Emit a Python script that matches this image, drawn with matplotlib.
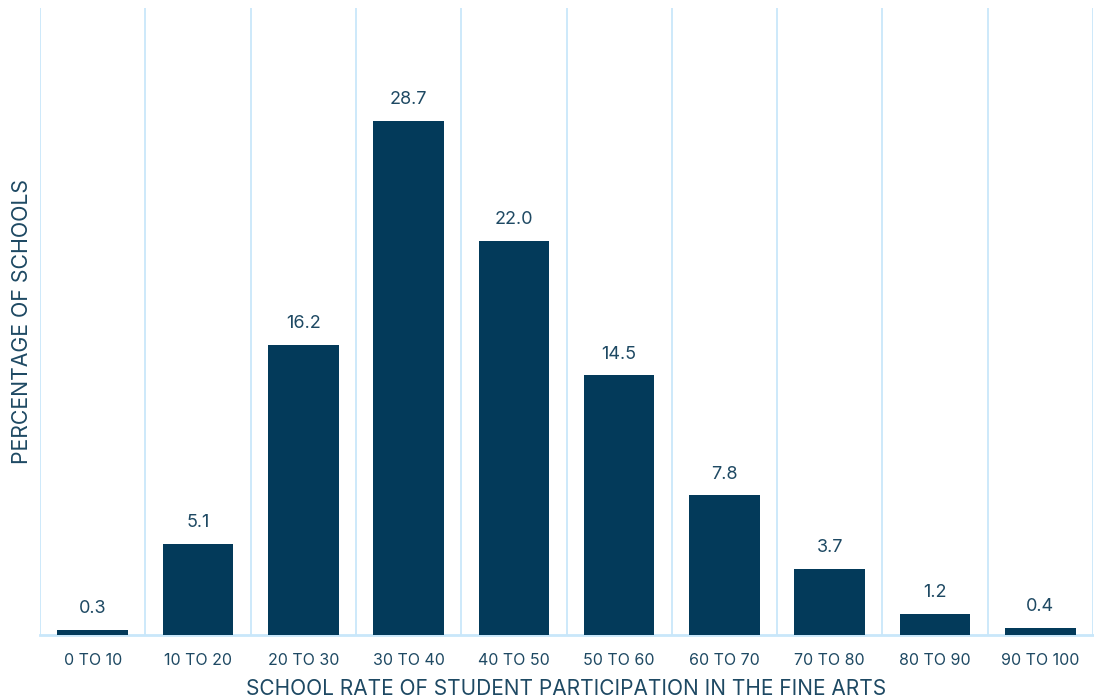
import matplotlib.pyplot as plt
import numpy as np

categories = ["0 TO 10", "10 TO 20", "20 TO 30", "30 TO 40", "40 TO 50",
              "50 TO 60", "60 TO 70", "70 TO 80", "80 TO 90", "90 TO 100"]
values = [0.3, 5.1, 16.2, 28.7, 22.0, 14.5, 7.8, 3.7, 1.2, 0.4]

bar_color = "#033a5a"
grid_color = "#c9e7fa"
text_color = "#1e4963"

plt.rcParams['font.family'] = ['Inter', 'DejaVu Sans']

fig = plt.figure(figsize=(10.94, 7), dpi=100)
ax = fig.add_axes([40 / 1094, 1 - 635 / 700, 1053 / 1094, 627 / 700])

x = np.arange(len(categories))
ax.bar(x, values, width=0.67, color=bar_color, zorder=3)
for xi, v in zip(x, values):
    ax.text(xi, v + 0.7, f"{v:.1f}", ha="center", va="bottom",
            fontsize=13, color=text_color)

ax.set_xlim(-0.5, len(categories) - 0.5)
ax.set_ylim(0, 35)

# vertical separators between categories
for b in np.arange(-0.5, len(categories), 1.0):
    ax.axvline(b, color=grid_color, lw=1.3, zorder=1)

for s in ["top", "right", "left"]:
    ax.spines[s].set_visible(False)
ax.spines["bottom"].set_color(grid_color)
ax.spines["bottom"].set_linewidth(2)

ax.set_yticks([])
ax.set_xticks(x)
ax.set_xticklabels(categories, fontsize=11.5, color=text_color)
ax.tick_params(axis="x", length=0, pad=13)

ax.set_xlabel("SCHOOL RATE OF STUDENT PARTICIPATION IN THE FINE ARTS",
              fontsize=15, color=text_color, labelpad=8)
fig.text(22 / 1094, 1 - 321 / 700, "PERCENTAGE OF SCHOOLS", rotation=90,
         ha="center", va="center", fontsize=15.3, color=text_color)

fig.savefig("out.png", dpi=100)
